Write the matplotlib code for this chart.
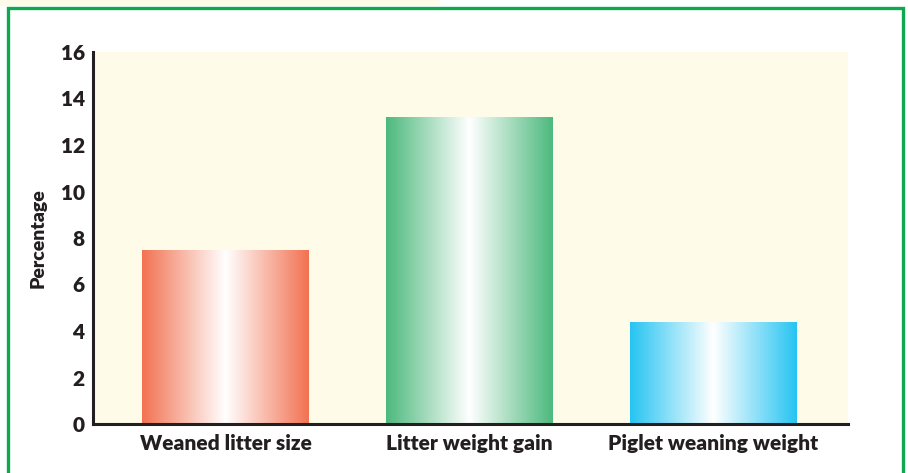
import numpy as np
import matplotlib
matplotlib.use("Agg")
import matplotlib.pyplot as plt
from matplotlib.colors import LinearSegmentedColormap
from matplotlib.patches import Rectangle

categories = ["Weaned litter size", "Litter weight gain", "Piglet weaning weight"]
values = [7.5, 13.2, 4.4]
edge_colors = ["#F27252", "#4DB97D", "#26C4F2"]
y_ticks = [0, 2, 4, 6, 8, 10, 12, 14, 16]

plt.rcParams['font.family'] = ['Lato', 'DejaVu Sans']

fig = plt.figure(figsize=(9.08, 4.73), dpi=100)
fig.patch.set_facecolor("white")

# plot area in figure pixels: x 93..848, y 52..424 (from top)
W, H = 908, 473
ax = fig.add_axes([93 / W, (H - 424) / H, (848 - 93) / W, (424 - 52) / H])
ax.set_facecolor("#FEFBE8")

x = np.arange(len(categories))
bars = ax.bar(x, values, width=0.684, color="none", edgecolor="none", zorder=2)

# horizontal gradient: colour at edges, white in the middle
ramp = np.abs(np.linspace(-1, 1, 256))[None, :]
for bar, col in zip(bars, edge_colors):
    cmap = LinearSegmentedColormap.from_list("g", ["white", col])
    x0, y0 = bar.get_x(), bar.get_y()
    im = ax.imshow(ramp, cmap=cmap, vmin=0, vmax=1, aspect="auto",
                   extent=[x0, x0 + bar.get_width(), y0, y0 + bar.get_height()],
                   interpolation="bilinear", zorder=2)
    im.set_clip_path(bar)

ax.set_xlim(-0.543, 2.551)
ax.set_ylim(0, 16)
ax.set_yticks(y_ticks)
ax.set_yticklabels([str(t) for t in y_ticks], fontsize=15, fontweight="heavy", color="#231F20")
ax.set_xticks(x)
ax.set_xticklabels(categories, fontsize=15, fontweight="heavy", color="#231F20")
ax.tick_params(axis="both", length=0)
ax.tick_params(axis="y", pad=6)
ax.tick_params(axis="x", pad=7)
ax.set_ylabel("Percentage", fontsize=14, fontweight="heavy", color="#231F20", labelpad=10)

for s in ["top", "right"]:
    ax.spines[s].set_visible(False)
for s in ["left", "bottom"]:
    ax.spines[s].set_linewidth(2.2)
    ax.spines[s].set_color("#231F20")

# cream strip at the very top-left and green frame around the chart
fig.patches.append(Rectangle((0, 1 - 6 / H), 440 / W, 6 / H, transform=fig.transFigure,
                             facecolor="#FEFBE8", edgecolor="none", zorder=0))
fig.patches.append(Rectangle((8 / W, -0.05), (903 - 8) / W, 1.05 - 8 / H,
                             transform=fig.transFigure, facecolor="none",
                             edgecolor="#0DA84F", linewidth=2.4, zorder=5))

fig.savefig("out.png", dpi=100)
